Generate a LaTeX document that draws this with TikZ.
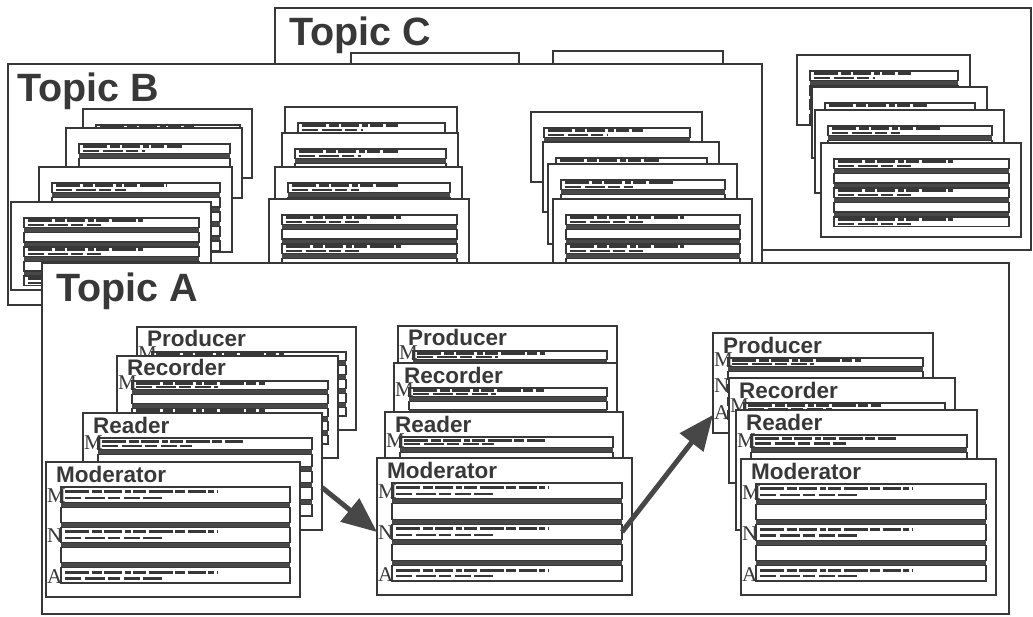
\documentclass[tikz,border=0pt]{standalone}
\usepackage{fontspec}
\usetikzlibrary{arrows.meta}
\newfontfamily\labelsans{Liberation Sans}
\newfontfamily\labelserif{Liberation Serif}
\colorlet{ink}{black!78}
\colorlet{pointer}{black!72}

\tikzset{
  frame/.style={draw=ink, line width=1.6pt, fill=white, inner sep=0pt, outer sep=0pt, anchor=north west},
  sheet/.style={draw=ink, line width=1.6pt, fill=white, inner sep=0pt, outer sep=0pt, anchor=north west},
  field/.style={draw=ink, line width=1.3pt, fill=white},
  band/.style={fill=ink!92},
  greek/.style={draw=ink, line width=3pt, dash pattern=on 24pt off 2.5pt on 10pt off 2.5pt on 18pt off 2.5pt on 6pt off 2.5pt on 13pt off 2.5pt},
  greekshort/.style={draw=ink, line width=2.2pt, dash pattern=on 16pt off 3.5pt on 20pt off 3.5pt on 12pt off 3.5pt},
  topic/.style={anchor=base west, inner sep=0pt, text=ink, font=\labelsans\bfseries\fontsize{39.5}{42}\selectfont},
  role/.style={anchor=base west, inner sep=0pt, text=ink, font=\labelsans\bfseries\fontsize{22.5}{24}\selectfont},
  tag/.style={anchor=base west, inner sep=0pt, text=ink, font=\labelserif\fontsize{21}{22}\selectfont},
  flow/.style={draw=pointer, line width=5pt, -{Triangle[length=35pt,width=29pt]}},
}

% fields of one sheet: x, y, w, h, top, slot, left inset, right inset
\newcommand{\sheetfields}[8]{%
  \begin{scope}
    \clip (#1,#2) rectangle ++(#3,#4);
    \pgfmathsetmacro\sfx{#1+#7}
    \pgfmathsetmacro\sfr{#1+#3-#8}
    \pgfmathsetmacro\sftop{#2+#5}
    \pgfmathsetmacro\sfh{#6-5}
    \fill[band] (\sfx,\sftop) rectangle (\sfr,{\sftop+4*#6+\sfh});
    \foreach \k in {0,...,4}{
      \pgfmathsetmacro\sft{\sftop+\k*#6}
      \draw[field] (\sfx,\sft) rectangle (\sfr,{\sft+\sfh});
    }
    \foreach \k in {0,2,4}{
      \pgfmathsetmacro\sla{\sftop+\k*#6+0.3*\sfh}
      \pgfmathsetmacro\slb{\sftop+\k*#6+0.7*\sfh}
      \draw[greek] ({\sfx+4},\sla) -- ({\sfx+0.68*(\sfr-\sfx)},\sla);
      \draw[greekshort] ({\sfx+4},\slb) -- ({\sfx+0.44*(\sfr-\sfx)},\slb);
    }
  \end{scope}
}

% plain sheet: name, x, y, w, h
\newcommand{\plainsheet}[5]{%
  \node[sheet, minimum width=#4pt, minimum height=#5pt] (#1) at (#2,#3) {};
  \sheetfields{#2}{#3}{#4}{#5}{16}{14.5}{13}{12}
}

% role sheet: name, x, y, w, h, role, shown letters (letter/slot)
\newcommand{\rolesheet}[7]{%
  \node[sheet, minimum width=#4pt, minimum height=#5pt] (#1) at (#2,#3) {};
  \pgfmathsetmacro\rslot{(#5-34)/5}
  \sheetfields{#2}{#3}{#4}{#5}{25}{\rslot}{15}{10}
  \node[role] (#1-title) at (#2+10,#3+20) {#6};
  \pgfmathsetmacro\rh{\rslot-5}
  \foreach \ltr/\s in {#7}{
    \node[tag] (#1-\ltr) at (#2+1,{#3+25+\s*\rslot+\rh}) {\ltr};
  }
  \coordinate (#1-n) at (#2,{#3+25+2*\rslot+\rh/2});
  \coordinate (#1-a) at (#2,{#3+25+4*\rslot+\rh/2});
  \coordinate (#1-ne) at (#2+#4-10,{#3+25+2*\rslot+\rh/2});
}

\begin{document}
\begin{tikzpicture}[x=1pt, y=-1pt]
  \useasboundingbox (0,0) rectangle (1033,617);

  % Topic C
  \node[frame, minimum width=756pt, minimum height=242pt] (topicC) at (275,8) {};
  \node[topic] (topicC-label) at (289,46) {Topic C};
  \node[sheet, minimum width=168pt, minimum height=20pt] (ctab1) at (351,53) {};
  \node[sheet, minimum width=170pt, minimum height=20pt] (ctab2) at (553,51) {};
  \plainsheet{c1}{797}{55}{173}{70}
  \plainsheet{c2}{812}{87}{175}{71}
  \plainsheet{c3}{815}{110}{189}{83}
  \plainsheet{c4}{821}{143}{200}{94}

  % Topic B
  \node[frame, minimum width=754pt, minimum height=241pt] (topicB) at (8,64) {};
  \node[topic] (topicB-label) at (17,102) {Topic B};
  \plainsheet{b11}{83}{109}{169}{69}
  \plainsheet{b12}{66}{128}{176}{70}
  \plainsheet{b13}{39}{167}{193}{85}
  \plainsheet{b14}{11}{202}{200}{88}
  \plainsheet{b21}{285}{107}{172}{72}
  \plainsheet{b22}{282}{133}{176}{72}
  \plainsheet{b23}{275}{167}{187}{80}
  \plainsheet{b24}{269}{199}{200}{90}
  \plainsheet{b31}{531}{112}{171}{70}
  \plainsheet{b32}{543}{142}{176}{70}
  \plainsheet{b33}{548}{164}{189}{80}
  \plainsheet{b34}{553}{199}{199}{90}

  % Topic A
  \node[frame, minimum width=967pt, minimum height=351pt] (topicA) at (42,263) {};
  \node[topic] (topicA-label) at (56,302) {Topic A};
  \rolesheet{a1prod}{137}{327}{219}{103}{Producer}{M/0}
  \rolesheet{a1rec}{117}{356}{221}{102}{Recorder}{M/0}
  \rolesheet{a1read}{83}{413}{239}{117}{Reader}{M/0}
  \rolesheet{a1mod}{46}{462}{254}{135}{Moderator}{M/0,N/2,A/4}
  \rolesheet{a2prod}{398}{326}{219}{100}{Producer}{M/0}
  \rolesheet{a2rec}{394}{363}{223}{100}{Recorder}{M/0}
  \rolesheet{a2read}{385}{412}{238}{110}{Reader}{M/0}
  \rolesheet{a2mod}{377}{458}{255}{137}{Moderator}{M/0,N/2,A/4}
  \rolesheet{a3prod}{713}{333}{220}{100}{Producer}{M/0,N/2,A/4}
  \rolesheet{a3rec}{729}{378}{226}{105}{Recorder}{M/0}
  \rolesheet{a3read}{736}{410}{241}{120}{Reader}{M/0}
  \rolesheet{a3mod}{741}{459}{255}{136}{Moderator}{M/0,N/2,A/4}

  % Links
  \draw[flow] ([yshift=-16pt]a1read.east) -- (a2mod-n);
  \draw[flow] (a2mod-ne) -- (a3prod-a);
\end{tikzpicture}
\end{document}
